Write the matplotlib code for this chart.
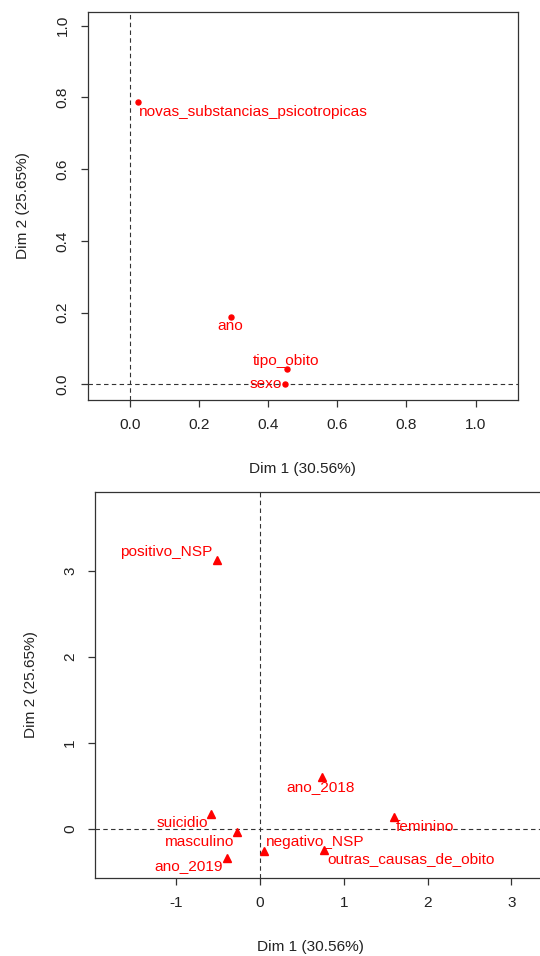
import matplotlib
matplotlib.use("Agg")
import matplotlib.pyplot as plt

plt.rcParams['font.family'] = ['Liberation Sans', 'DejaVu Sans']

# Variables plot (Dim 1 vs Dim 2)
var_names = ["novas_substancias_psicotropicas", "ano", "tipo_obito", "sexo"]
var_x = [0.024, 0.293, 0.453, 0.450]
var_y = [0.786, 0.188, 0.042, 0.002]
var_lab_x = [0.027, 0.291, 0.451, 0.394]
var_lab_y = [0.760, 0.163, 0.066, 0.001]
var_lab_ha = ["left", "center", "center", "center"]

# Categories plot
cat_names = ["positivo_NSP", "ano_2018", "suicidio", "masculino", "feminino",
             "negativo_NSP", "outras_causas_de_obito", "ano_2019"]
cat_x = [-0.517, 0.737, -0.585, -0.278, 1.604, 0.044, 0.768, -0.394]
cat_y = [3.130, 0.600, 0.180, -0.030, 0.140, -0.255, -0.240, -0.335]
cat_lab_x = [-1.119, 0.724, -0.931, -0.718, 1.964, 0.655, 1.805, -0.856]
cat_lab_y = [3.217, 0.492, 0.066, -0.147, 0.020, -0.155, -0.349, -0.426]

x_title = "Dim 1 (30.56%)"
y_title = "Dim 2 (25.65%)"

FS = 11.1
W, H = 540, 956
fig = plt.figure(figsize=(W / 100, H / 100), dpi=100)


def px_axes(left, top, right, bottom):
    return fig.add_axes([left / W, 1 - bottom / H, (right - left) / W, (bottom - top) / H])


def style(ax):
    for s in ax.spines.values():
        s.set_color("#333333")
        s.set_linewidth(0.9)
    ax.tick_params(direction="out", length=5, width=0.9, color="#333333",
                   labelsize=FS, labelcolor="#222222", pad=8)
    ax.tick_params(axis="y", labelrotation=90)
    for lab in ax.get_yticklabels():
        lab.set_va("center")
    ax.axhline(0, color="#333333", lw=0.8, linestyle=(0, (4, 3)), zorder=1)
    ax.axvline(0, color="#333333", lw=0.8, linestyle=(0, (4, 3)), zorder=1)


# top panel
ax1 = px_axes(87.5, 12, 517.7, 399.5)
ax1.set_xlim(-0.123, 1.122)
ax1.set_ylim(-0.042, 1.038)
ax1.set_xticks([0.0, 0.2, 0.4, 0.6, 0.8, 1.0])
ax1.set_yticks([0.0, 0.2, 0.4, 0.6, 0.8, 1.0])
ax1.set_xticklabels(["0.0", "0.2", "0.4", "0.6", "0.8", "1.0"])
ax1.set_yticklabels(["0.0", "0.2", "0.4", "0.6", "0.8", "1.0"])
style(ax1)
ax1.plot(var_x, var_y, "o", color="red", ms=3.6, zorder=3)
for name, lx, ly, ha in zip(var_names, var_lab_x, var_lab_y, var_lab_ha):
    ax1.text(lx, ly, name, color="red", fontsize=FS, ha=ha, va="center", zorder=4)
ax1.set_xlabel(x_title, fontsize=FS, color="#222222")
ax1.set_ylabel(y_title, fontsize=FS, color="#222222")
ax1.xaxis.set_label_coords(0.499, -0.161)
ax1.yaxis.set_label_coords(-0.134, 0.5)

# bottom panel (right edge runs past the image)
ax2 = px_axes(95.3, 492.3, 549.0, 877.7)
ax2.set_xlim(-1.966, 3.45)
ax2.set_ylim(-0.566, 3.915)
ax2.set_xticks([-1, 0, 1, 2, 3])
ax2.set_yticks([0, 1, 2, 3])
ax2.set_xticklabels(["-1", "0", "1", "2", "3"])
ax2.set_yticklabels(["0", "1", "2", "3"])
style(ax2)
ax2.plot(cat_x, cat_y, "^", color="red", ms=6, zorder=3)
for name, lx, ly in zip(cat_names, cat_lab_x, cat_lab_y):
    ax2.text(lx, ly, name, color="red", fontsize=FS, ha="center", va="center", zorder=4)
ax2.set_xlabel(x_title, fontsize=FS, color="#222222")
ax2.set_ylabel(y_title, fontsize=FS, color="#222222")
ax2.xaxis.set_label_coords(0.475, -0.162)
ax2.yaxis.set_label_coords(-0.126, 0.5)

fig.savefig("out.png", dpi=100)
